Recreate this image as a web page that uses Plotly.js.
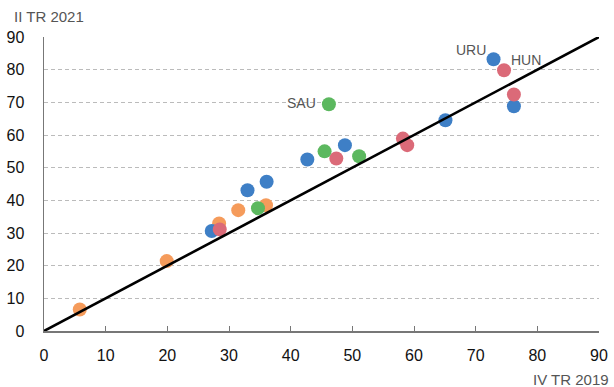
<!DOCTYPE html>
<html>
<head>
<meta charset="utf-8">
<script src="https://cdn.plot.ly/plotly-3.0.1.min.js"></script>
<style>html,body{margin:0;padding:0;background:#fff;}#chart{width:614px;height:387px;}</style>
</head>
<body>
<div id="chart"></div>
<script>
// IV TR 2019 (x) vs II TR 2021 (y)
const blueX = [27.2, 33.0, 36.1, 42.7, 48.8, 65.1, 72.9, 76.2];
const blueY = [30.6, 43.1, 45.7, 52.5, 56.9, 64.5, 83.2, 68.8];
const redX = [28.5, 47.4, 58.2, 58.9, 74.6, 76.2];
const redY = [31.1, 52.8, 58.9, 56.9, 79.8, 72.4];
const greenX = [34.7, 45.5, 51.1, 46.2];
const greenY = [37.6, 55.0, 53.5, 69.4];
const orangeX = [5.8, 19.9, 28.4, 31.5, 36.0];
const orangeY = [6.6, 21.4, 32.9, 37.0, 38.5];
const lineX = [0, 90];
const lineY = [0, 90];
const labels = [
  {text: 'URU', x: 72.9, y: 83.2, pos: 'upleft'},
  {text: 'HUN', x: 74.6, y: 79.8, pos: 'upright'},
  {text: 'SAU', x: 46.2, y: 69.4, pos: 'left'}
];
const xTicks = [0, 10, 20, 30, 40, 50, 60, 70, 80, 90];
const yTicks = [0, 10, 20, 30, 40, 50, 60, 70, 80, 90];
const yTitle = 'II TR 2021';
const xTitle = 'IV TR 2019';

const mk = (x, y, color) => ({
  x: x, y: y, type: 'scatter', mode: 'markers',
  marker: {size: 14, color: color, line: {width: 0}},
  hoverinfo: 'skip', showlegend: false, cliponaxis: false
});

const traces = [
  mk(orangeX, orangeY, '#F59B5B'),
  mk(blueX, blueY, '#3E7FC6'),
  mk(redX, redY, '#DB6A78'),
  mk(greenX, greenY, '#5CB85F'),
  {x: lineX, y: lineY, type: 'scatter', mode: 'lines',
   line: {color: '#000', width: 2.6}, hoverinfo: 'skip', showlegend: false, cliponaxis: false}
];

const FONT = 'Liberation Sans, Arial, sans-serif';
const annFont = {family: FONT, size: 14, color: '#555'};
const shifts = {
  upleft: {xanchor: 'right', xshift: -6, yshift: 9},
  upright: {xanchor: 'left', xshift: 5, yshift: 10},
  left: {xanchor: 'right', xshift: -11, yshift: 1}
};
const annotations = labels.map(l => {
  const s = shifts[l.pos];
  return {x: l.x, y: l.y, xref: 'x', yref: 'y', text: l.text, showarrow: false,
    xanchor: s.xanchor, yanchor: 'middle', xshift: s.xshift, yshift: s.yshift, font: annFont};
});
annotations.push({xref: 'paper', yref: 'paper', x: -44/555, y: 1, xanchor: 'left', yanchor: 'bottom',
  xshift: 12, yshift: 10, text: yTitle, showarrow: false, font: {family: FONT, size: 15, color: '#555'}});
annotations.push({xref: 'paper', yref: 'paper', x: 1, y: 0, xanchor: 'right', yanchor: 'top',
  xshift: 12, yshift: -38, text: xTitle, showarrow: false, font: {family: FONT, size: 15, color: '#555'}});

const layout = {
  width: 614, height: 387,
  margin: {l: 44, r: 15, t: 37, b: 56, pad: 0},
  paper_bgcolor: '#fff', plot_bgcolor: '#fff',
  font: {family: FONT, size: 16, color: '#111'},
  xaxis: {range: [0, 90], tickvals: xTicks, ticktext: xTicks.map(String),
    showgrid: false, zeroline: false, showline: true, linecolor: '#777', linewidth: 2,
    ticks: 'inside', ticklen: 5, tickcolor: '#777', tickwidth: 1,
    ticklabelstandoff: 9, fixedrange: true},
  yaxis: {range: [0, 90], tickvals: yTicks, ticktext: yTicks.map(String),
    showgrid: true, gridcolor: '#bbb', griddash: '4px,3px', gridwidth: 1,
    zeroline: false, showline: true, linecolor: '#777', linewidth: 1.5,
    ticks: '', ticklabelstandoff: 15, fixedrange: true},
  annotations: annotations,
  showlegend: false
};

Plotly.newPlot('chart', traces, layout, {displayModeBar: false, staticPlot: true});
</script>
</body>
</html>
